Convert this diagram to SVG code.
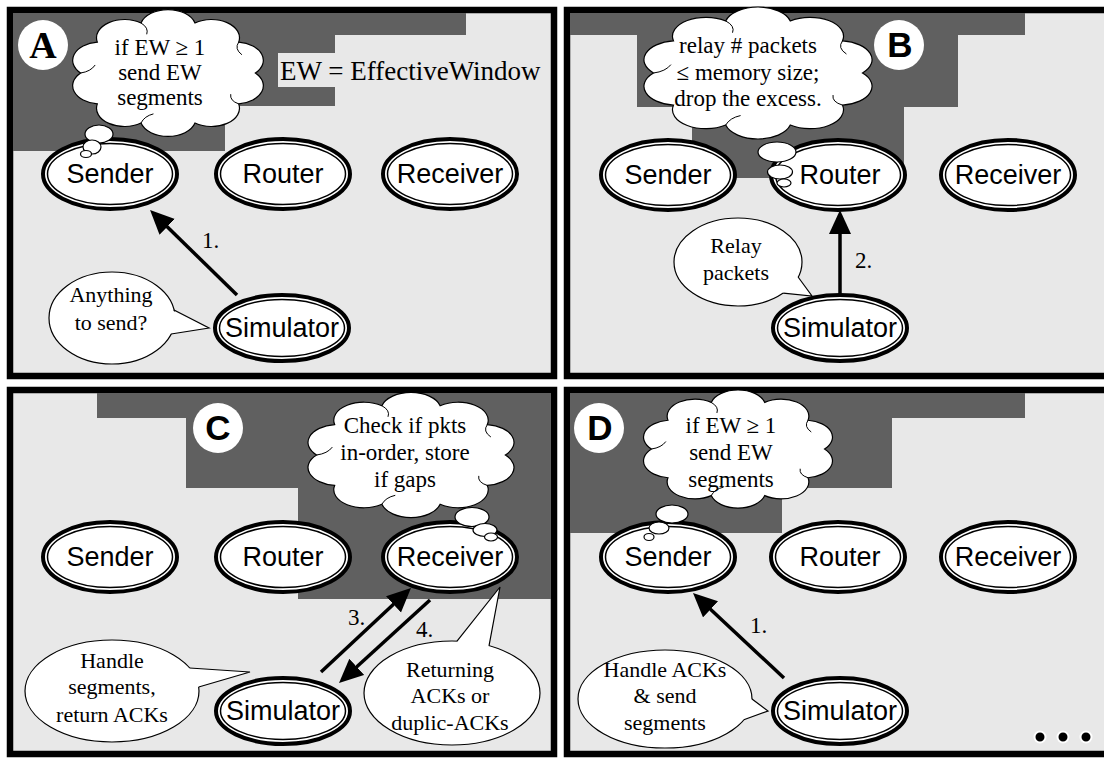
<svg xmlns="http://www.w3.org/2000/svg" width="1104" height="758" viewBox="0 0 1104 758">
  <style>
    .frame{fill:#e8e8e8;stroke:#000;stroke-width:6.5}
    .dark{fill:#606060}
    .outer{fill:#fff;stroke:#000;stroke-width:4}
    .inner{fill:none;stroke:#000;stroke-width:1.5}
    .nlabel{font-family:"Liberation Sans",Arial,sans-serif;font-size:27px;text-anchor:middle;fill:#000}
    .note{font-family:"Liberation Serif","Times New Roman",serif;font-size:22px;text-anchor:middle;fill:#000}
    .think{font-size:23px}
    .bub{fill:#fff;stroke:#000;stroke-width:1.2}
    .crease{fill:none;stroke:#000;stroke-width:1}
    .tailfill{fill:#fff;stroke:none}
    .tail{fill:none;stroke:#000;stroke-width:1.2}
    .conn{stroke:#000;stroke-width:3.5;fill:none;marker-end:url(#head)}
    .step{font-family:"Liberation Serif","Times New Roman",serif;font-size:23px;fill:#000}
    .badge{fill:#fff}
    .bsans{font-family:"Liberation Sans",Arial,sans-serif;font-weight:bold;font-size:35px;text-anchor:middle;fill:#000}
    .bserif{font-family:"Liberation Serif","Times New Roman",serif;font-weight:bold;font-size:38px;text-anchor:middle;fill:#000}
    .dot{fill:#000;stroke:#fff;stroke-width:2}
  </style>
  <defs>
    <!-- thought cloud outline, roughly 170 x 174 around its centre, with small inner creases -->
    <g id="cloud">
      <path class="bub" vector-effect="non-scaling-stroke"
        d="M78,0 A25,25 0 0,1 63.1,42.3 A25,25 0 0,1 24.1,68.5 A25,25 0 0,1 -24.1,68.5 A25,25 0 0,1 -63.1,42.3 A25,25 0 0,1 -78,0 A25,25 0 0,1 -63.1,-42.3 A25,25 0 0,1 -24.1,-68.5 A25,25 0 0,1 24.1,-68.5 A25,25 0 0,1 63.1,-42.3 A25,25 0 0,1 78,0 Z"/>
      <path class="crease" vector-effect="non-scaling-stroke"
        d="M63.1,42.3 Q55,38 56,29 M-24.1,68.5 Q-21,59 -13,56 M-78,0 Q-69,-2 -65,-11 M-24.1,-68.5 Q-17,-62 -19,-53 M63.1,-42.3 Q59,-33 66,-25"/>
    </g>
    <marker id="head" markerUnits="userSpaceOnUse" markerWidth="26" markerHeight="24" refX="14" refY="11" orient="auto">
      <path d="M0,0 L24,11 L0,22 Z" fill="#000"/>
    </marker>
  </defs>

  <rect width="1104" height="758" fill="#fff"/>

  <!-- panel backgrounds -->
  <g id="panel-a-bg">
    <rect class="frame" x="10" y="10" width="544" height="366"/>
    <polygon class="dark" points="13,13 466,13 466,35 335,35 335,106 225,106 225,151 13,151"/>
    <rect x="278" y="53" width="57" height="34" fill="#e8e8e8"/>
  </g>
  <g id="panel-b-bg">
    <rect class="frame" x="567" y="10" width="600" height="366"/>
    <polygon class="dark" points="570,13 1025,13 1025,35 958,35 958,107 904,107 904,178 692,178 692,107 637,107 637,35 570,35"/>
  </g>
  <g id="panel-c-bg">
    <rect class="frame" x="10" y="390" width="544" height="364"/>
    <polygon class="dark" points="97,393 551,393 551,599 298,599 298,488 186,488 186,418 97,418"/>
  </g>
  <g id="panel-d-bg">
    <rect class="frame" x="567" y="390" width="600" height="364"/>
    <polygon class="dark" points="570,393 1025,393 1025,418 892,418 892,488 782,488 782,533 570,533"/>
  </g>

  <!-- connectors -->
  <g id="connectors">
    <line class="conn" x1="237" y1="295" x2="157.2" y2="217"/>
    <line class="conn" x1="840" y1="294" x2="840" y2="220"/>
    <line class="conn" x1="321" y1="672" x2="403.7" y2="594.8"/>
    <line class="conn" x1="430" y1="600" x2="346.4" y2="676.3"/>
    <line class="conn" x1="784" y1="678" x2="700.3" y2="599.8"/>
    <text class="step" x="202" y="248">1.</text>
    <text class="step" x="855" y="268">2.</text>
    <text class="step" x="348" y="625">3.</text>
    <text class="step" x="416" y="637">4.</text>
    <text class="step" x="750" y="633">1.</text>
  </g>

  <!-- panel badges -->
  <g id="badge-a"><circle class="badge" cx="43" cy="45" r="25"/><text class="bserif" x="43" y="58">A</text></g>
  <g id="badge-b"><circle class="badge" cx="899" cy="45" r="25"/><text class="bsans" x="900" y="57">B</text></g>
  <g id="badge-c"><circle class="badge" cx="218" cy="428" r="25"/><text class="bsans" x="218" y="440">C</text></g>
  <g id="badge-d"><circle class="badge" cx="599" cy="428" r="25"/><text class="bsans" x="600" y="440">D</text></g>

  <!-- panel A nodes -->
  <g id="a-sender"><ellipse class="outer" cx="110" cy="174" rx="67" ry="35"/><ellipse class="inner" cx="110" cy="174" rx="62.5" ry="30.5"/><text class="nlabel" x="110" y="183">Sender</text></g>
  <g id="a-router"><ellipse class="outer" cx="283" cy="174" rx="67" ry="35"/><ellipse class="inner" cx="283" cy="174" rx="62.5" ry="30.5"/><text class="nlabel" x="283" y="183">Router</text></g>
  <g id="a-receiver"><ellipse class="outer" cx="450" cy="174" rx="67" ry="35"/><ellipse class="inner" cx="450" cy="174" rx="62.5" ry="30.5"/><text class="nlabel" x="450" y="183">Receiver</text></g>
  <g id="a-simulator"><ellipse class="outer" cx="282" cy="328" rx="67" ry="33"/><ellipse class="inner" cx="282" cy="328" rx="62.5" ry="28.5"/><text class="nlabel" x="282" y="337">Simulator</text></g>

  <!-- panel B nodes -->
  <g id="b-sender"><ellipse class="outer" cx="668" cy="175" rx="67" ry="35"/><ellipse class="inner" cx="668" cy="175" rx="62.5" ry="30.5"/><text class="nlabel" x="668" y="184">Sender</text></g>
  <g id="b-router"><ellipse class="outer" cx="838" cy="175" rx="67" ry="35"/><ellipse class="inner" cx="838" cy="175" rx="62.5" ry="30.5"/><text class="nlabel" x="840" y="184">Router</text></g>
  <g id="b-receiver"><ellipse class="outer" cx="1008" cy="175" rx="67" ry="35"/><ellipse class="inner" cx="1008" cy="175" rx="62.5" ry="30.5"/><text class="nlabel" x="1008" y="184">Receiver</text></g>
  <g id="b-simulator"><ellipse class="outer" cx="840" cy="328" rx="67" ry="33"/><ellipse class="inner" cx="840" cy="328" rx="62.5" ry="28.5"/><text class="nlabel" x="840" y="337">Simulator</text></g>

  <!-- panel C nodes -->
  <g id="c-sender"><ellipse class="outer" cx="110" cy="557" rx="67" ry="35"/><ellipse class="inner" cx="110" cy="557" rx="62.5" ry="30.5"/><text class="nlabel" x="110" y="566">Sender</text></g>
  <g id="c-router"><ellipse class="outer" cx="283" cy="557" rx="67" ry="35"/><ellipse class="inner" cx="283" cy="557" rx="62.5" ry="30.5"/><text class="nlabel" x="283" y="566">Router</text></g>
  <g id="c-receiver"><ellipse class="outer" cx="450" cy="557" rx="67" ry="35"/><ellipse class="inner" cx="450" cy="557" rx="62.5" ry="30.5"/><text class="nlabel" x="450" y="566">Receiver</text></g>
  <g id="c-simulator"><ellipse class="outer" cx="283" cy="711" rx="67" ry="33"/><ellipse class="inner" cx="283" cy="711" rx="62.5" ry="28.5"/><text class="nlabel" x="283" y="720">Simulator</text></g>

  <!-- panel D nodes -->
  <g id="d-sender"><ellipse class="outer" cx="668" cy="557" rx="67" ry="35"/><ellipse class="inner" cx="668" cy="557" rx="62.5" ry="30.5"/><text class="nlabel" x="668" y="566">Sender</text></g>
  <g id="d-router"><ellipse class="outer" cx="838" cy="557" rx="67" ry="35"/><ellipse class="inner" cx="838" cy="557" rx="62.5" ry="30.5"/><text class="nlabel" x="840" y="566">Router</text></g>
  <g id="d-receiver"><ellipse class="outer" cx="1008" cy="557" rx="67" ry="35"/><ellipse class="inner" cx="1008" cy="557" rx="62.5" ry="30.5"/><text class="nlabel" x="1008" y="566">Receiver</text></g>
  <g id="d-simulator"><ellipse class="outer" cx="840" cy="711" rx="67" ry="33"/><ellipse class="inner" cx="840" cy="711" rx="62.5" ry="28.5"/><text class="nlabel" x="840" y="720">Simulator</text></g>

  <!-- thought clouds -->
  <g id="think-a">
    <use href="#cloud" transform="translate(168,73) scale(1.12,0.73)"/>
    <ellipse class="bub" cx="99" cy="134" rx="14" ry="9"/>
    <ellipse class="bub" cx="92" cy="147" rx="9" ry="7"/>
    <ellipse class="bub" cx="86" cy="154" rx="5.5" ry="3.5"/>
    <text class="note think" x="160" y="55">if EW ≥ 1</text>
    <text class="note think" x="160" y="80">send EW</text>
    <text class="note think" x="160" y="105">segments</text>
  </g>
  <g id="think-b">
    <use href="#cloud" transform="translate(758,73) scale(1.34,0.76)"/>
    <ellipse class="bub" cx="777" cy="152" rx="19" ry="10"/>
    <ellipse class="bub" cx="780" cy="172" rx="12.5" ry="7"/>
    <ellipse class="bub" cx="784" cy="183" rx="7" ry="4"/>
    <text class="note think" x="748" y="53">relay # packets</text>
    <text class="note think" x="748" y="80">≤ memory size;</text>
    <text class="note think" x="748" y="106">drop the excess.</text>
  </g>
  <g id="think-c">
    <use href="#cloud" transform="translate(411,455) scale(1.21,0.72)"/>
    <ellipse class="bub" cx="472" cy="517" rx="17" ry="9.5"/>
    <ellipse class="bub" cx="485" cy="530" rx="12" ry="6.5"/>
    <ellipse class="bub" cx="491" cy="537" rx="6.5" ry="4"/>
    <text class="note think" x="405" y="433">Check if pkts</text>
    <text class="note think" x="405" y="460">in-order, store</text>
    <text class="note think" x="405" y="487">if gaps</text>
  </g>
  <g id="think-d">
    <use href="#cloud" transform="translate(738,449) scale(1.11,0.68)"/>
    <ellipse class="bub" cx="672" cy="514" rx="16" ry="9"/>
    <ellipse class="bub" cx="659" cy="528" rx="10" ry="6"/>
    <ellipse class="bub" cx="649" cy="537" rx="5" ry="3.5"/>
    <text class="note think" x="731" y="433">if EW ≥ 1</text>
    <text class="note think" x="731" y="460">send EW</text>
    <text class="note think" x="731" y="487">segments</text>
  </g>

  <!-- speech bubbles -->
  <g id="say-a">
    <ellipse class="bub" cx="112" cy="318" rx="63" ry="46"/>
    <polygon class="tailfill" points="173.5,311 209,328 171.1,334 150,322"/>
    <polyline class="tail" points="174,310 209,328 171.1,334"/>
    <text class="note" x="111" y="302">Anything</text>
    <text class="note" x="111" y="330">to send?</text>
  </g>
  <g id="say-b">
    <ellipse class="bub" cx="738" cy="262" rx="64" ry="44"/>
    <polygon class="tailfill" points="798.1,277 812,296 783.3,293.1 770,280"/>
    <polyline class="tail" points="798.1,277 812,296 783.3,293.1"/>
    <text class="note" x="736" y="253">Relay</text>
    <text class="note" x="736" y="280">packets</text>
  </g>
  <g id="say-c-left">
    <ellipse class="bub" cx="112" cy="691" rx="87" ry="51"/>
    <polygon class="tailfill" points="189.6,668 250,672 198.7,687 170,680"/>
    <polyline class="tail" points="189.6,668 250,672 198.7,687"/>
    <text class="note" x="112" y="668">Handle</text>
    <text class="note" x="112" y="694">segments,</text>
    <text class="note" x="112" y="722">return ACKs</text>
  </g>
  <g id="say-c-right">
    <ellipse class="bub" cx="452" cy="693" rx="88" ry="52"/>
    <polygon class="tailfill" points="457,641.1 500,587 489,645.8 470,660"/>
    <polyline class="tail" points="457,641.1 500,587 489,645.8"/>
    <text class="note" x="450" y="677">Returning</text>
    <text class="note" x="450" y="703">ACKs or</text>
    <text class="note" x="450" y="730">duplic-ACKs</text>
  </g>
  <g id="say-d">
    <ellipse class="bub" cx="665" cy="699" rx="87" ry="49"/>
    <polygon class="tailfill" points="752,699 768,711 743.8,719.7 730,708"/>
    <polyline class="tail" points="752,699 768,711 743.8,719.7"/>
    <text class="note" x="665" y="677">Handle ACKs</text>
    <text class="note" x="665" y="703">&amp; send</text>
    <text class="note" x="665" y="730">segments</text>
  </g>

  <!-- legend text -->
  <text id="ew-legend" class="note" x="280" y="80" style="text-anchor:start;font-size:27px">EW = EffectiveWindow</text>

  <!-- continuation dots -->
  <g id="more">
    <circle class="dot" cx="1040" cy="737" r="5.5"/>
    <circle class="dot" cx="1063" cy="737" r="5.5"/>
    <circle class="dot" cx="1086" cy="737" r="5.5"/>
  </g>
</svg>
